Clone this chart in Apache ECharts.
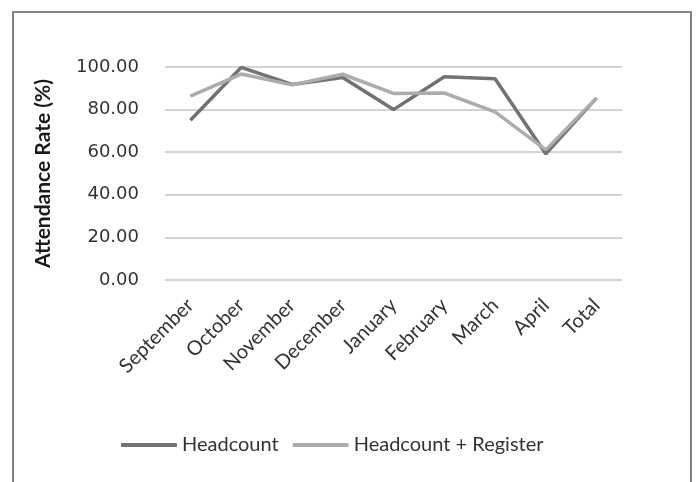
<!DOCTYPE html>
<html>
<head>
<meta charset="utf-8">
<script src="https://cdn.jsdelivr.net/npm/echarts@6/dist/echarts.min.js"></script>
<style>
html,body{margin:0;padding:0;background:#fff;}
#chart{width:697px;height:482px;}
</style>
</head>
<body>
<div id="chart"></div>
<script>
var categories = ['September','October','November','December','January','February','March','April','Total'];
var headcount = [75.0, 99.8, 91.8, 95.1, 80.0, 95.4, 94.5, 59.2, 85.5];
var headcountRegister = [86.3, 96.7, 91.6, 96.6, 87.6, 87.8, 78.9, 61.1, 85.5];
var yTicks = [0, 20, 40, 60, 80, 100];

var chart = echarts.init(document.getElementById('chart'));
chart.setOption({
  backgroundColor: '#ffffff',
  animation: false,
  graphic: [{
    type: 'rect',
    shape: {x: 13, y: 12, width: 678, height: 500},
    style: {fill: 'none', stroke: '#858585', lineWidth: 2},
    silent: true
  }],
  grid: {left: 165, right: 75, top: 67, bottom: 202, containLabel: false},
  legend: {
    left: 116,
    top: 430,
    itemWidth: 56,
    itemHeight: 4,
    itemGap: 14,
    icon: 'roundRect',
    textStyle: {fontFamily: 'Lato', fontSize: 20, color: '#333333'},
    data: ['Headcount', 'Headcount + Register']
  },
  xAxis: {
    type: 'category',
    data: categories,
    boundaryGap: true,
    axisLine: {show: false},
    axisTick: {show: false},
    axisLabel: {
      interval: 0,
      rotate: 45,
      margin: 22,
      fontFamily: 'Lato',
      fontSize: 20,
      color: '#333333'
    }
  },
  yAxis: {
    type: 'value',
    min: yTicks[0],
    max: yTicks[yTicks.length - 1],
    interval: 20,
    name: 'Attendance Rate (%)',
    nameLocation: 'middle',
    nameGap: 111,
    nameTextStyle: {fontFamily: 'Lato', fontWeight: 'bold', fontSize: 21, color: '#1a1a1a'},
    axisLine: {show: false},
    axisTick: {show: false},
    axisLabel: {
      margin: 26,
      fontFamily: 'DejaVu Sans',
      fontSize: 18,
      color: '#333333',
      formatter: function (v) { return v.toFixed(2); }
    },
    splitLine: {lineStyle: {color: '#c4c4c4', width: 1.5}}
  },
  series: [
    {
      name: 'Headcount',
      type: 'line',
      data: headcount,
      symbol: 'none',
      lineStyle: {color: '#767171', width: 3.5},
      itemStyle: {color: '#767171'}
    },
    {
      name: 'Headcount + Register',
      type: 'line',
      data: headcountRegister,
      symbol: 'none',
      lineStyle: {color: '#afabab', width: 3.5},
      itemStyle: {color: '#afabab'}
    }
  ]
});
</script>
</body>
</html>
